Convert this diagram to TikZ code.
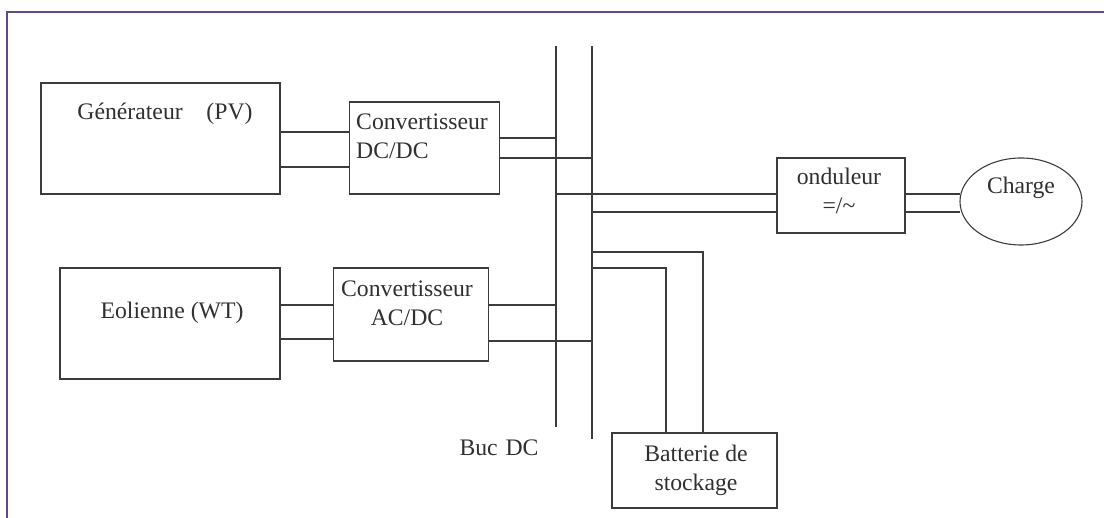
\documentclass[tikz,border=0pt]{standalone}
\usepackage{fontspec}
\setmainfont{Liberation Serif}
\usepackage{xcolor}
\usetikzlibrary{positioning, shapes.geometric}
\definecolor{framecol}{HTML}{5F4B8B}
\definecolor{linecol}{HTML}{3C3C3C}
\definecolor{textcol}{HTML}{303030}
\tikzset{
    box/.style={draw=linecol, line width=1.1pt, rectangle, inner sep=0pt},
    txt/.style={text=textcol, font=\fontsize{23.7}{29}\selectfont, align=center, inner sep=0pt},
    wire/.style={draw=linecol, line width=1.1pt}
}

\begin{document}
\begin{tikzpicture}[x=1pt,y=1pt]
    \useasboundingbox (0,0) rectangle (1104,518);
    \draw[framecol, line width=2pt] (6.7,0) -- (6.7,506) -- (1104,506);
    % blocks
    \node[box, minimum width=239pt, minimum height=111pt] (gen) at (160.5,379.5) {};
    \node[box, minimum width=150pt, minimum height=92pt, above right=0pt and 68pt of gen.south east] (dcdc) {};
    \node[box, minimum width=220pt, minimum height=111pt] (eol) at (170,194.5) {};
    \node[box, minimum width=155pt, minimum height=93pt, below right=0pt and 52pt of eol.north east] (acdc) {};
    \node[box, minimum width=128pt, minimum height=75pt] (ond) at (841,322.5) {};
    \node[draw=linecol, line width=1.1pt, ellipse, minimum width=122pt, minimum height=87pt, inner sep=0pt] (charge) at (1021,316.5) {};
    \node[box, minimum width=165pt, minimum height=75pt] (batt) at (694.5,47.5) {};
    % texts
    \node[txt] (gentxt) at (165,404) {G\'en\'erateur\quad (PV)};
    \node[txt, anchor=west, align=left] (dcdctxt) at (356,382) {Convertisseur\\DC/DC};
    \node[txt] (eoltxt) at (172,205) {Eolienne (WT)};
    \node[txt] (acdctxt) at (407,214.5) {Convertisseur\\AC/DC};
    \node[txt] (ondtxt) at (839,327) {onduleur\\=/\textasciitilde};
    \node[txt] (chargetxt) at (1021,330) {Charge};
    \node[txt] (batttxt) at (696,48) {Batterie de\\stockage};
    \node[txt] (bustxt) at (499,70) {Buc\,\,DC};
    % bus bars
    \coordinate (busAt) at (556,472);
    \coordinate (busAb) at (556,91);
    \coordinate (busBt) at (592,472);
    \coordinate (busBb) at (592,79);
    \draw[wire] (busAt) -- (busAb);
    \draw[wire] (busBt) -- (busBb);
    % connections
    \foreach \lvl in {386,351} {
        \draw[wire] (gen.east |- 0,\lvl) -- (dcdc.west |- 0,\lvl);
    }
    \foreach \lvl in {213,179} {
        \draw[wire] (eol.east |- 0,\lvl) -- (acdc.west |- 0,\lvl);
    }
    \draw[wire] (dcdc.east |- 0,380) -- (busAt |- 0,380);
    \draw[wire] (dcdc.east |- 0,360) -- (busBt |- 0,360);
    \draw[wire] (acdc.east |- 0,213) -- (busAt |- 0,213);
    \draw[wire] (acdc.east |- 0,177) -- (busBt |- 0,177);
    \draw[wire] (busAt |- 0,324) -- (ond.west |- 0,324);
    \draw[wire] (busBt |- 0,306) -- (ond.west |- 0,306);
    \foreach \lvl in {324,306} {
        \draw[wire] (ond.east |- 0,\lvl) -- ([xshift=1pt]charge.west |- 0,\lvl);
    }
    \draw[wire] (busBt |- 0,266) -| ([xshift=8.5pt]batt.north);
    \draw[wire] (busBt |- 0,250) -| ([xshift=-28.5pt]batt.north);
\end{tikzpicture}
\end{document}
